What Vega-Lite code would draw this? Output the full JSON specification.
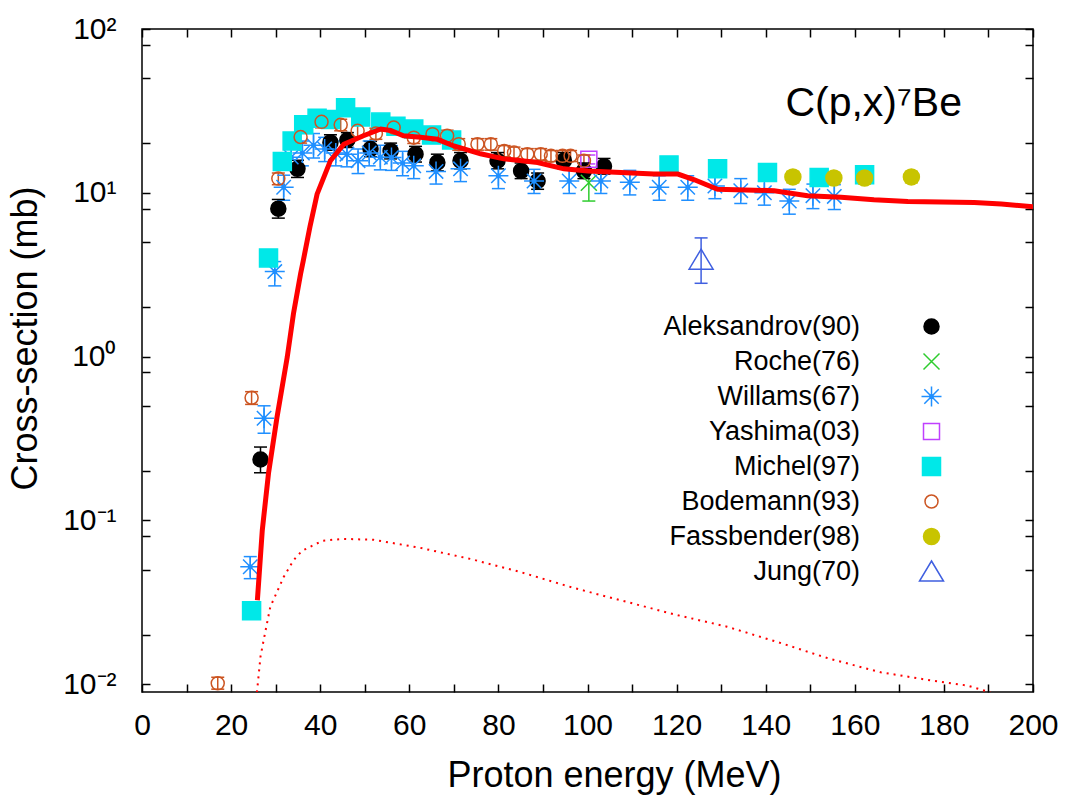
{
  "$schema": "https://vega.github.io/schema/vega-lite/v6.json",
  "width": 891,
  "height": 663,
  "autosize": {"type": "none"},
  "padding": {"left": 142, "top": 29, "right": 32, "bottom": 108},
  "background": "white",
  "config": {
    "font": "Liberation Sans",
    "view": {"stroke": "black", "strokeWidth": 1.5},
    "axis": {
      "grid": false,
      "domain": false,
      "tickColor": "black",
      "tickWidth": 1.5,
      "tickSize": -8,
      "labelFont": "Liberation Sans",
      "labelFontSize": 30,
      "labelColor": "black",
      "titleFont": "Liberation Sans",
      "titleFontSize": 36,
      "titleFontWeight": "normal",
      "titleColor": "black"
    }
  },
  "title": {
    "text": "C(p,x)⁷Be",
    "anchor": "end",
    "frame": "group",
    "offset": -143,
    "baseline": "alphabetic",
    "dx": -71,
    "fontSize": 41,
    "font": "Liberation Sans",
    "fontWeight": "normal",
    "color": "black"
  },
  "datasets": {
    "points": [
      {"series": "Aleksandrov(90)", "E": 26.6, "sigma": 0.235, "lo": 0.195, "hi": 0.28},
      {"series": "Aleksandrov(90)", "E": 30.6, "sigma": 8.0, "lo": 7.0, "hi": 9.1},
      {"series": "Aleksandrov(90)", "E": 34.9, "sigma": 14.0, "lo": 12.4, "hi": 15.8},
      {"series": "Aleksandrov(90)", "E": 42.3, "sigma": 20.3, "lo": 18.2, "hi": 22.6},
      {"series": "Aleksandrov(90)", "E": 46.1, "sigma": 21.0, "lo": 18.9, "hi": 23.3},
      {"series": "Aleksandrov(90)", "E": 51.3, "sigma": 18.5, "lo": 16.6, "hi": 20.6},
      {"series": "Aleksandrov(90)", "E": 55.8, "sigma": 18.0, "lo": 16.1, "hi": 20.1},
      {"series": "Aleksandrov(90)", "E": 61.4, "sigma": 17.2, "lo": 15.4, "hi": 19.2},
      {"series": "Aleksandrov(90)", "E": 66.3, "sigma": 15.3, "lo": 13.6, "hi": 17.2},
      {"series": "Aleksandrov(90)", "E": 71.5, "sigma": 15.7, "lo": 14.0, "hi": 17.6},
      {"series": "Aleksandrov(90)", "E": 79.8, "sigma": 15.7, "lo": 14.0, "hi": 17.6},
      {"series": "Aleksandrov(90)", "E": 85.1, "sigma": 13.6, "lo": 12.2, "hi": 15.2},
      {"series": "Aleksandrov(90)", "E": 88.8, "sigma": 11.8, "lo": 10.5, "hi": 13.2},
      {"series": "Aleksandrov(90)", "E": 94.7, "sigma": 15.7, "lo": 14.0, "hi": 17.6},
      {"series": "Aleksandrov(90)", "E": 99.2, "sigma": 13.6, "lo": 12.2, "hi": 15.2},
      {"series": "Aleksandrov(90)", "E": 103.7, "sigma": 14.5, "lo": 13.0, "hi": 16.2},
      {"series": "Roche(76)", "E": 100.3, "sigma": 11.5, "lo": 8.9, "hi": 13.3},
      {"series": "Willams(67)", "E": 24.3, "sigma": 0.052, "lo": 0.044, "hi": 0.06},
      {"series": "Willams(67)", "E": 27.4, "sigma": 0.42, "lo": 0.34, "hi": 0.5},
      {"series": "Willams(67)", "E": 29.8, "sigma": 3.3, "lo": 2.7, "hi": 3.8},
      {"series": "Willams(67)", "E": 31.8, "sigma": 10.8, "lo": 9.0, "hi": 12.8},
      {"series": "Willams(67)", "E": 33.5, "sigma": 16.5, "lo": 13.8, "hi": 19.5},
      {"series": "Willams(67)", "E": 36.0, "sigma": 17.5, "lo": 14.6, "hi": 20.7},
      {"series": "Willams(67)", "E": 38.5, "sigma": 19.5, "lo": 16.3, "hi": 23.0},
      {"series": "Willams(67)", "E": 41.0, "sigma": 18.5, "lo": 15.5, "hi": 21.8},
      {"series": "Willams(67)", "E": 43.5, "sigma": 17.5, "lo": 14.6, "hi": 20.7},
      {"series": "Willams(67)", "E": 46.0, "sigma": 17.2, "lo": 14.4, "hi": 20.3},
      {"series": "Willams(67)", "E": 48.5, "sigma": 15.7, "lo": 13.1, "hi": 18.5},
      {"series": "Willams(67)", "E": 51.0, "sigma": 17.5, "lo": 14.6, "hi": 20.7},
      {"series": "Willams(67)", "E": 53.5, "sigma": 16.5, "lo": 13.8, "hi": 19.5},
      {"series": "Willams(67)", "E": 56.0, "sigma": 16.4, "lo": 13.7, "hi": 19.4},
      {"series": "Willams(67)", "E": 58.5, "sigma": 15.2, "lo": 12.7, "hi": 17.9},
      {"series": "Willams(67)", "E": 61.0, "sigma": 14.6, "lo": 12.2, "hi": 17.2},
      {"series": "Willams(67)", "E": 66.0, "sigma": 13.5, "lo": 11.3, "hi": 15.9},
      {"series": "Willams(67)", "E": 71.5, "sigma": 14.0, "lo": 11.7, "hi": 16.5},
      {"series": "Willams(67)", "E": 80.0, "sigma": 12.7, "lo": 10.6, "hi": 15.0},
      {"series": "Willams(67)", "E": 88.0, "sigma": 11.8, "lo": 9.9, "hi": 13.9},
      {"series": "Willams(67)", "E": 95.9, "sigma": 11.8, "lo": 9.9, "hi": 13.9},
      {"series": "Willams(67)", "E": 103.0, "sigma": 11.8, "lo": 9.9, "hi": 13.9},
      {"series": "Willams(67)", "E": 109.5, "sigma": 11.6, "lo": 9.7, "hi": 13.7},
      {"series": "Willams(67)", "E": 116.1, "sigma": 10.8, "lo": 9.0, "hi": 12.7},
      {"series": "Willams(67)", "E": 122.5, "sigma": 10.8, "lo": 9.0, "hi": 12.7},
      {"series": "Willams(67)", "E": 128.6, "sigma": 11.0, "lo": 9.2, "hi": 13.0},
      {"series": "Willams(67)", "E": 134.4, "sigma": 10.3, "lo": 8.6, "hi": 12.2},
      {"series": "Willams(67)", "E": 139.7, "sigma": 10.0, "lo": 8.4, "hi": 11.8},
      {"series": "Willams(67)", "E": 145.3, "sigma": 8.9, "lo": 7.4, "hi": 10.5},
      {"series": "Willams(67)", "E": 150.6, "sigma": 9.6, "lo": 8.0, "hi": 11.3},
      {"series": "Willams(67)", "E": 155.4, "sigma": 9.5, "lo": 7.9, "hi": 11.2},
      {"series": "Yashima(03)", "E": 100.3, "sigma": 16.0, "lo": 15.0, "hi": 17.0},
      {"series": "Michel(97)", "E": 24.6, "sigma": 0.028},
      {"series": "Michel(97)", "E": 28.4, "sigma": 4.0},
      {"series": "Michel(97)", "E": 31.5, "sigma": 15.5},
      {"series": "Michel(97)", "E": 33.7, "sigma": 20.7},
      {"series": "Michel(97)", "E": 36.3, "sigma": 26.0},
      {"series": "Michel(97)", "E": 39.3, "sigma": 28.5},
      {"series": "Michel(97)", "E": 42.3, "sigma": 28.0},
      {"series": "Michel(97)", "E": 45.7, "sigma": 33.0},
      {"series": "Michel(97)", "E": 49.1, "sigma": 29.0},
      {"series": "Michel(97)", "E": 53.6, "sigma": 27.0},
      {"series": "Michel(97)", "E": 57.0, "sigma": 25.5},
      {"series": "Michel(97)", "E": 61.0, "sigma": 24.5},
      {"series": "Michel(97)", "E": 65.0, "sigma": 22.5},
      {"series": "Michel(97)", "E": 69.5, "sigma": 21.0},
      {"series": "Michel(97)", "E": 118.3, "sigma": 14.8},
      {"series": "Michel(97)", "E": 129.2, "sigma": 14.0},
      {"series": "Michel(97)", "E": 140.4, "sigma": 13.3},
      {"series": "Michel(97)", "E": 152.0, "sigma": 12.4},
      {"series": "Michel(97)", "E": 162.2, "sigma": 12.9},
      {"series": "Bodemann(93)", "E": 17.0, "sigma": 0.0101, "lo": 0.0093, "hi": 0.011},
      {"series": "Bodemann(93)", "E": 24.6, "sigma": 0.56, "lo": 0.51, "hi": 0.61},
      {"series": "Bodemann(93)", "E": 30.6, "sigma": 12.2, "lo": 11.2, "hi": 13.2},
      {"series": "Bodemann(93)", "E": 35.6, "sigma": 21.9, "lo": 20.1, "hi": 23.7},
      {"series": "Bodemann(93)", "E": 40.3, "sigma": 27.1, "lo": 24.9, "hi": 29.3},
      {"series": "Bodemann(93)", "E": 44.6, "sigma": 26.0, "lo": 23.9, "hi": 28.1},
      {"series": "Bodemann(93)", "E": 48.4, "sigma": 23.9, "lo": 22.0, "hi": 25.8},
      {"series": "Bodemann(93)", "E": 52.5, "sigma": 23.0, "lo": 21.2, "hi": 24.8},
      {"series": "Bodemann(93)", "E": 56.5, "sigma": 25.0, "lo": 23.0, "hi": 27.0},
      {"series": "Bodemann(93)", "E": 61.0, "sigma": 21.7, "lo": 20.0, "hi": 23.4},
      {"series": "Bodemann(93)", "E": 65.2, "sigma": 22.8, "lo": 21.0, "hi": 24.6},
      {"series": "Bodemann(93)", "E": 68.5, "sigma": 22.3, "lo": 20.5, "hi": 24.1},
      {"series": "Bodemann(93)", "E": 71.1, "sigma": 19.8, "lo": 18.2, "hi": 21.4},
      {"series": "Bodemann(93)", "E": 75.3, "sigma": 19.8, "lo": 18.2, "hi": 21.4},
      {"series": "Bodemann(93)", "E": 78.3, "sigma": 19.8, "lo": 18.2, "hi": 21.4},
      {"series": "Bodemann(93)", "E": 81.3, "sigma": 18.0, "lo": 16.6, "hi": 19.4},
      {"series": "Bodemann(93)", "E": 83.5, "sigma": 17.6, "lo": 16.2, "hi": 19.0},
      {"series": "Bodemann(93)", "E": 86.5, "sigma": 17.2, "lo": 15.8, "hi": 18.6},
      {"series": "Bodemann(93)", "E": 89.5, "sigma": 17.2, "lo": 15.8, "hi": 18.6},
      {"series": "Bodemann(93)", "E": 91.8, "sigma": 16.8, "lo": 15.5, "hi": 18.1},
      {"series": "Bodemann(93)", "E": 94.4, "sigma": 16.8, "lo": 15.5, "hi": 18.1},
      {"series": "Bodemann(93)", "E": 96.2, "sigma": 16.8, "lo": 15.5, "hi": 18.1},
      {"series": "Bodemann(93)", "E": 99.2, "sigma": 15.7, "lo": 14.4, "hi": 17.0},
      {"series": "Fassbender(98)", "E": 146.1, "sigma": 12.5, "lo": 11.5, "hi": 13.5},
      {"series": "Fassbender(98)", "E": 155.3, "sigma": 12.3, "lo": 11.3, "hi": 13.3},
      {"series": "Fassbender(98)", "E": 162.2, "sigma": 12.3, "lo": 11.3, "hi": 13.3},
      {"series": "Fassbender(98)", "E": 172.7, "sigma": 12.5, "lo": 11.5, "hi": 13.5},
      {"series": "Jung(70)", "E": 125.5, "sigma": 3.9, "lo": 2.8, "hi": 5.3}
    ],
    "model": [
      {"E": 25.9, "sigma": 0.0325}, {"E": 27.0, "sigma": 0.087}, {"E": 28.4, "sigma": 0.194},
      {"E": 30.3, "sigma": 0.425}, {"E": 32.6, "sigma": 0.99}, {"E": 34.0, "sigma": 1.83},
      {"E": 35.6, "sigma": 3.2}, {"E": 36.2, "sigma": 3.85}, {"E": 37.7, "sigma": 6.2},
      {"E": 39.3, "sigma": 9.8}, {"E": 42.3, "sigma": 15.7}, {"E": 45.3, "sigma": 19.8},
      {"E": 49.7, "sigma": 22.3}, {"E": 53.6, "sigma": 24.5}, {"E": 55.8, "sigma": 24.0},
      {"E": 58.7, "sigma": 22.3}, {"E": 62.5, "sigma": 21.8}, {"E": 66.3, "sigma": 21.2},
      {"E": 70.0, "sigma": 19.3}, {"E": 76.0, "sigma": 17.3}, {"E": 81.2, "sigma": 16.1},
      {"E": 88.8, "sigma": 15.3}, {"E": 94.7, "sigma": 14.0}, {"E": 100.1, "sigma": 13.6},
      {"E": 107.5, "sigma": 13.3}, {"E": 114.9, "sigma": 13.0}, {"E": 120.3, "sigma": 13.0},
      {"E": 124.0, "sigma": 12.0}, {"E": 129.2, "sigma": 10.5}, {"E": 141.9, "sigma": 10.3},
      {"E": 149.4, "sigma": 9.6}, {"E": 156.9, "sigma": 9.4}, {"E": 164.3, "sigma": 9.06},
      {"E": 171.9, "sigma": 8.85}, {"E": 186.8, "sigma": 8.73}, {"E": 192.9, "sigma": 8.53},
      {"E": 200.0, "sigma": 8.22}
    ],
    "dotted": [
      {"E": 25.8, "sigma": 0.0089}, {"E": 26.6, "sigma": 0.0147}, {"E": 27.3, "sigma": 0.0185},
      {"E": 28.8, "sigma": 0.0296}, {"E": 31.8, "sigma": 0.045}, {"E": 34.0, "sigma": 0.057},
      {"E": 35.9, "sigma": 0.065}, {"E": 40.5, "sigma": 0.075}, {"E": 45.1, "sigma": 0.077},
      {"E": 52.0, "sigma": 0.076}, {"E": 62.3, "sigma": 0.068}, {"E": 73.8, "sigma": 0.058},
      {"E": 85.3, "sigma": 0.048}, {"E": 96.8, "sigma": 0.0387}, {"E": 108.3, "sigma": 0.032},
      {"E": 119.8, "sigma": 0.0265}, {"E": 131.3, "sigma": 0.0224}, {"E": 142.8, "sigma": 0.018},
      {"E": 154.2, "sigma": 0.0143}, {"E": 165.8, "sigma": 0.0118}, {"E": 177.3, "sigma": 0.0105},
      {"E": 185.2, "sigma": 0.0098}, {"E": 190.4, "sigma": 0.0089}
    ]
  },
  "resolve": {"axis": {"x": "independent", "y": "independent"}},
  "layer": [
    {
      "data": {"name": "points"},
      "transform": [{"filter": "isValid(datum.lo)"}],
      "mark": {"type": "rule", "strokeWidth": 1.5, "clip": true},
      "encoding": {
        "x": {"field": "E", "type": "quantitative", "scale": {"domain": [0, 200], "nice": false}, "axis": null},
        "y": {"field": "lo", "type": "quantitative", "scale": {"type": "log", "domain": [0.00894, 100], "nice": false}, "axis": null},
        "y2": {"field": "hi"},
        "stroke": {"field": "series", "type": "nominal"}
      }
    },
    {
      "data": {"name": "points"},
      "transform": [{"filter": "isValid(datum.lo)"}],
      "mark": {"type": "point", "shape": "M-1,0L1,0", "size": 169, "strokeWidth": 1.5, "opacity": 1, "clip": true},
      "encoding": {
        "x": {"field": "E", "type": "quantitative", "scale": {"domain": [0, 200], "nice": false}, "axis": null},
        "y": {"field": "lo", "type": "quantitative", "scale": {"type": "log", "domain": [0.00894, 100], "nice": false}, "axis": null},
        "stroke": {"field": "series", "type": "nominal"}
      }
    },
    {
      "data": {"name": "points"},
      "transform": [{"filter": "isValid(datum.hi)"}],
      "mark": {"type": "point", "shape": "M-1,0L1,0", "size": 169, "strokeWidth": 1.5, "opacity": 1, "clip": true},
      "encoding": {
        "x": {"field": "E", "type": "quantitative", "scale": {"domain": [0, 200], "nice": false}, "axis": null},
        "y": {"field": "hi", "type": "quantitative", "scale": {"type": "log", "domain": [0.00894, 100], "nice": false}, "axis": null},
        "stroke": {"field": "series", "type": "nominal"}
      }
    },
    {
      "data": {"name": "points"},
      "mark": {"type": "point", "size": 400, "strokeWidth": 1.5, "opacity": 1},
      "encoding": {
        "x": {
          "field": "E", "type": "quantitative",
          "scale": {"domain": [0, 200], "nice": false},
          "axis": {
            "orient": "bottom",
            "title": "Proton energy (MeV)",
            "values": [0, 10, 20, 30, 40, 50, 60, 70, 80, 90, 100, 110, 120, 130, 140, 150, 160, 170, 180, 190, 200],
            "labelExpr": "datum.value % 20 == 0 ? datum.label : ''",
            "labelPadding": 26,
            "labelFlush": false,
            "labelOverlap": false,
            "titleX": 472,
            "titleY": 94,
            "titleAlign": "center",
            "titleBaseline": "alphabetic"
          }
        },
        "y": {
          "field": "sigma", "type": "quantitative",
          "scale": {"type": "log", "domain": [0.00894, 100], "nice": false},
          "axis": {
            "orient": "left",
            "title": "Cross-section (mb)",
            "values": [0.01, 0.02, 0.05, 0.08, 0.1, 0.2, 0.5, 0.8, 1, 2, 5, 8, 10, 20, 50, 80, 100],
            "labelExpr": "datum.value == 100 ? '10²' : datum.value == 10 ? '10¹' : datum.value == 1 ? '10⁰' : datum.value == 0.1 ? '10⁻¹' : datum.value == 0.01 ? '10⁻²' : ''",
            "labelPadding": 34,
            "labelFlush": false,
            "labelOverlap": false,
            "titleX": -117,
            "titleY": 309,
            "titleAlign": "center",
            "titleAngle": 270,
            "titleBaseline": "middle"
          }
        },
        "shape": {
          "field": "series", "type": "nominal",
          "scale": {
            "domain": ["Aleksandrov(90)", "Roche(76)", "Willams(67)", "Yashima(03)", "Michel(97)", "Bodemann(93)", "Fassbender(98)", "Jung(70)"],
            "range": [
              "M-0.75,0A0.75,0.75 0 1,0 0.75,0A0.75,0.75 0 1,0 -0.75,0Z",
              "M-0.8,-0.8L0.8,0.8M-0.8,0.8L0.8,-0.8",
              "M-1,0L1,0M0,-1L0,1M-0.72,-0.72L0.72,0.72M-0.72,0.72L0.72,-0.72M-0.18,0A0.18,0.18 0 1,0 0.18,0A0.18,0.18 0 1,0 -0.18,0Z",
              "M-0.8,-0.8H0.8V0.8H-0.8Z",
              "M-0.9,-0.9H0.9V0.9H-0.9Z",
              "M-0.65,0A0.65,0.65 0 1,0 0.65,0A0.65,0.65 0 1,0 -0.65,0Z",
              "M-0.8,0A0.8,0.8 0 1,0 0.8,0A0.8,0.8 0 1,0 -0.8,0Z",
              "M0,-1.05L1.2,0.95H-1.2Z"
            ]
          },
          "legend": {
            "title": null,
            "orient": "none",
            "legendX": 696,
            "legendY": 284,
            "direction": "vertical",
            "labelAlign": "right",
            "labelOffset": -85,
            "symbolOffset": 80,
            "labelFontSize": 27,
            "labelFont": "Liberation Sans",
            "labelColor": "black",
            "labelLimit": 400,
            "rowPadding": 7,
            "symbolSize": 400,
            "symbolStrokeWidth": 1.5,
            "padding": 0
          }
        },
        "fill": {
          "field": "series", "type": "nominal",
          "scale": {
            "domain": ["Aleksandrov(90)", "Roche(76)", "Willams(67)", "Yashima(03)", "Michel(97)", "Bodemann(93)", "Fassbender(98)", "Jung(70)"],
            "range": ["#000000", "transparent", "#1f8fff", "transparent", "#00e8e8", "transparent", "#c8c400", "transparent"]
          }
        },
        "stroke": {
          "field": "series", "type": "nominal",
          "scale": {
            "domain": ["Aleksandrov(90)", "Roche(76)", "Willams(67)", "Yashima(03)", "Michel(97)", "Bodemann(93)", "Fassbender(98)", "Jung(70)"],
            "range": ["#000000", "#2ecc2e", "#1f8fff", "#c040ff", "#00e8e8", "#cc5522", "#c8c400", "#3f5fe0"]
          }
        }
      }
    },
    {
      "data": {"name": "model"},
      "mark": {"type": "line", "color": "#ff0000", "strokeWidth": 5, "clip": true},
      "encoding": {
        "x": {
          "field": "E", "type": "quantitative",
          "scale": {"domain": [0, 200], "nice": false},
          "axis": {
            "orient": "top", "title": null, "labels": false,
            "values": [0, 10, 20, 30, 40, 50, 60, 70, 80, 90, 100, 110, 120, 130, 140, 150, 160, 170, 180, 190, 200]
          }
        },
        "y": {
          "field": "sigma", "type": "quantitative",
          "scale": {"type": "log", "domain": [0.00894, 100], "nice": false},
          "axis": {
            "orient": "right", "title": null, "labels": false,
            "values": [0.01, 0.02, 0.05, 0.08, 0.1, 0.2, 0.5, 0.8, 1, 2, 5, 8, 10, 20, 50, 80, 100]
          }
        }
      }
    },
    {
      "data": {"name": "dotted"},
      "mark": {"type": "line", "color": "#ff0000", "strokeWidth": 2, "strokeDash": [2, 5], "clip": true},
      "encoding": {
        "x": {"field": "E", "type": "quantitative", "scale": {"domain": [0, 200], "nice": false}, "axis": null},
        "y": {"field": "sigma", "type": "quantitative", "scale": {"type": "log", "domain": [0.00894, 100], "nice": false}, "axis": null}
      }
    }
  ]
}
